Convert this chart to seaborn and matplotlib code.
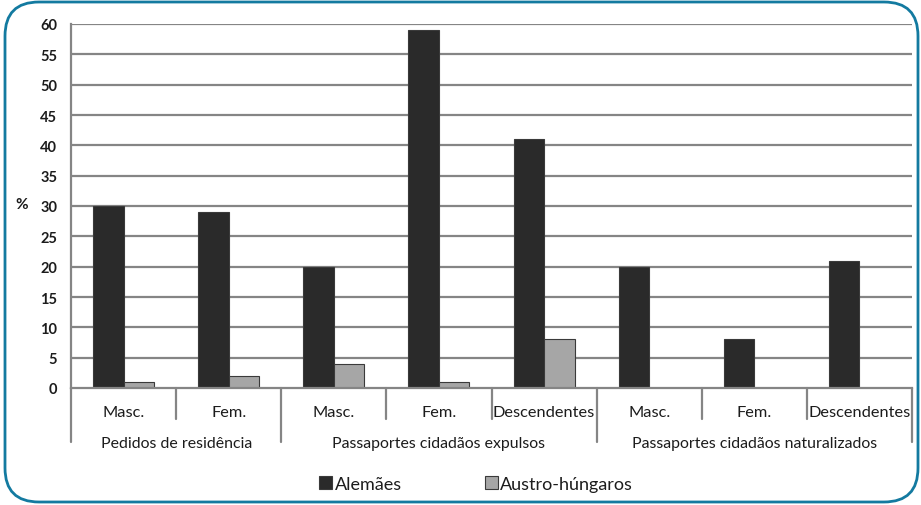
import matplotlib
matplotlib.use("Agg")
import matplotlib.pyplot as plt
import matplotlib.transforms as mtransforms
from matplotlib.patches import FancyBboxPatch, Patch
import seaborn as sns
import pandas as pd

groups = ["Pedidos de residência", "Passaportes cidadãos expulsos", "Passaportes cidadãos naturalizados"]
subcats = ["Masc.", "Fem.", "Masc.", "Fem.", "Descendentes", "Masc.", "Fem.", "Descendentes"]
group_of = [0, 0, 1, 1, 1, 2, 2, 2]
series = ["Alemães", "Austro-húngaros"]
alemaes = [30, 29, 20, 59, 41, 20, 8, 21]
austro = [1, 2, 4, 1, 8, 0, 0, 0]
yticks = list(range(0, 61, 5))

keys = [f"{i}" for i in range(len(subcats))]
df = pd.DataFrame({
    "cat": keys * 2,
    "serie": [series[0]] * len(keys) + [series[1]] * len(keys),
    "val": alemaes + austro,
})

sns.set_style("white")
plt.rcParams["font.family"] = ["Lato", "DejaVu Sans"]

W, H = 921, 506
fig = plt.figure(figsize=(W / 100, H / 100), dpi=100)
fig.patch.set_facecolor("white")
ax = fig.add_axes([71 / W, 1 - 389 / H, (912 - 71) / W, (389 - 25) / H])

grid_c = "#858585"
txt_c = "#1c1c1c"
for y in yticks[1:]:
    ax.axhline(y, color=grid_c, lw=1.6, zorder=0)

sns.barplot(data=df, x="cat", y="val", hue="serie", order=keys,
            palette=["#2a2a2a", "#a6a6a6"], width=0.58, gap=0,
            edgecolor="#3a3a3a", linewidth=0.8, ax=ax, legend=False, zorder=2)

ax.set_xlim(-0.5, len(subcats) - 0.5)
ax.set_ylim(0, 60)
ax.set_yticks(yticks)
ax.set_yticklabels([str(t) for t in yticks], fontsize=10.5, fontweight="bold", color=txt_c)
ax.tick_params(axis="y", length=5, width=1.6, color=grid_c, pad=5)
ax.set_xticks([])
ax.set_xlabel("")
ax.set_ylabel("")
for s in ["top", "right"]:
    ax.spines[s].set_visible(False)
ax.spines["left"].set_color(grid_c)
ax.spines["left"].set_linewidth(1.6)
ax.spines["bottom"].set_color(grid_c)
ax.spines["bottom"].set_linewidth(1.6)

trans = mtransforms.blended_transform_factory(ax.transData, ax.transAxes)
n = len(subcats)
bounds = [0] + [i for i in range(1, n) if group_of[i] != group_of[i - 1]] + [n]
for k in range(n + 1):
    yend = -0.148 if k in bounds else -0.085
    ax.plot([k - 0.5, k - 0.5], [0, yend], transform=trans, color=grid_c, lw=1.6, clip_on=False)
for i, lab in enumerate(subcats):
    ax.text(i, -0.066, lab, transform=trans, ha="center", va="center", fontsize=11.8, color=txt_c)
for g in range(len(groups)):
    a, b = bounds[g], bounds[g + 1]
    ax.text((a + b - 1) / 2, -0.152, groups[g], transform=trans, ha="center", va="center",
            fontsize=11.4, color=txt_c)

fig.text(22 / W, 1 - 205 / H, "%", ha="center", va="center", fontsize=11, fontweight="bold", color=txt_c)

handles = [Patch(facecolor="#2a2a2a", edgecolor="#3a3a3a", lw=0.8),
           Patch(facecolor="#a6a6a6", edgecolor="#3a3a3a", lw=0.8)]
fig.legend(handles, series, loc="center", bbox_to_anchor=(476 / W, 1 - 485 / H), ncol=2,
           frameon=False, fontsize=13, handlelength=0.72, handleheight=0.72,
           handletextpad=0.15, columnspacing=4.6, labelcolor=txt_c)

border = FancyBboxPatch((0.05, 0.03), 9.13, 5.0, boxstyle="round,pad=0,rounding_size=0.34",
                        transform=fig.dpi_scale_trans, fill=False, edgecolor="#137aa0", lw=2.0)
fig.add_artist(border)

fig.savefig("out.png", dpi=100)
